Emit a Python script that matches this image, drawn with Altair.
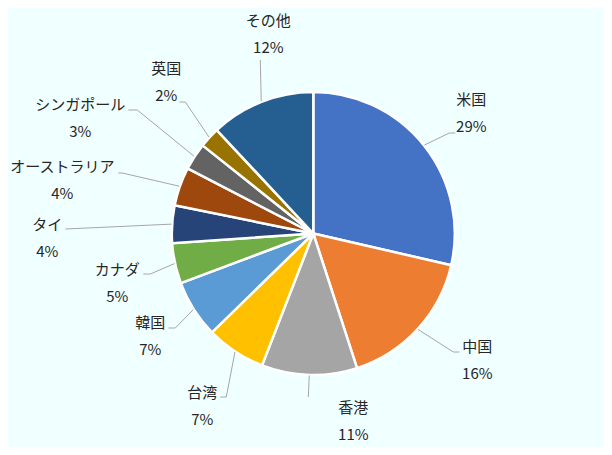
import math
import altair as alt
import pandas as pd

# ---- data (shares, %) ----
names = ["米国", "中国", "香港", "台湾", "韓国", "カナダ", "タイ",
         "オーストラリア", "シンガポール", "英国", "その他"]
shares = [28.6, 16.4, 10.9, 6.8, 6.6, 4.6, 4.3, 4.4, 3.1, 2.35, 11.95]
colors = ["#4472C4", "#ED7D31", "#A5A5A5", "#FFC000", "#5B9BD5", "#70AD47",
          "#264478", "#9E480E", "#636363", "#997300", "#255E91"]

# ---- layout (pixel offsets from the pie centre) ----
CX, CY, R = 305.3, 225.5, 141.5
label_off = [(158, -120), (164, 127), (40, 187.5), (-111, 173), (-163, 103),
             (-196, 50), (-266, 5), (-251, -53.5), (-233, -115), (-147, -151),
             (-45, -199)]
leader_elbow = [(136, -100.5), (140, 118.5), (-5, 163.5), (-87, 163.5),
                (-138, 94.5), (-163, 40.5), (-248, -4.5), (-191, -60.5),
                (-176, -123.5), (-128, -131.5), (-53, -173.5)]
leader_end = [(142, -100.5), (146, 118.5), (-5, 163.5), (-93, 163.5),
              (-145, 94.5), (-170, 40.5), (-248, -4.5), (-195, -60.5),
              (-185, -123.5), (-134, -131.5), (-53, -173.5)]

pie_df = pd.DataFrame({"name": names, "value": shares,
                       "idx": list(range(len(names)))})

lab_rows = []
for n, v, (dx, dy) in zip(names, shares, label_off):
    lab_rows.append({"name": n, "pct": f"{round(v)}%",
                     "x": CX + dx, "y": CY + dy})
lab_df = pd.DataFrame(lab_rows)

lead_rows = []
cum = 0.0
for n, v, e, t in zip(names, shares, leader_elbow, leader_end):
    mid = math.radians((cum + v / 2) / 100 * 360)
    cum += v
    lead_rows.append({"name": n, "pt": 0,
                      "x": CX + (R + 0.5) * math.sin(mid),
                      "y": CY - (R + 0.5) * math.cos(mid)})
    lead_rows.append({"name": n, "pt": 1, "x": CX + e[0], "y": CY + e[1]})
    lead_rows.append({"name": n, "pt": 2, "x": CX + t[0], "y": CY + t[1]})
lead_df = pd.DataFrame(lead_rows)

pie = alt.Chart(pie_df).mark_arc(
    outerRadius=R, stroke="white", strokeWidth=2.5
).encode(
    theta=alt.Theta("value:Q", stack=True),
    order=alt.Order("idx:Q"),
    color=alt.Color("name:N", scale=alt.Scale(domain=names, range=colors),
                    legend=None),
    x=alt.value(CX),
    y=alt.value(CY),
)

leaders = alt.Chart(lead_df).mark_line(
    color="#A6A6A6", strokeWidth=1
).encode(
    x=alt.X("x:Q", scale=None),
    y=alt.Y("y:Q", scale=None),
    detail="name:N",
    order="pt:Q",
)

font = "Noto Sans CJK JP"
name_txt = alt.Chart(lab_df).mark_text(
    font=font, fontSize=15, color="#262626", align="center",
    baseline="middle", dy=-13.5
).encode(x=alt.X("x:Q", scale=None), y=alt.Y("y:Q", scale=None),
         text="name:N")

pct_txt = alt.Chart(lab_df).mark_text(
    font=font, fontSize=15, color="#262626", align="center",
    baseline="middle", dy=13.5
).encode(x=alt.X("x:Q", scale=None), y=alt.Y("y:Q", scale=None),
         text="pct:N")

chart = alt.layer(pie, leaders, name_txt, pct_txt).properties(
    width=596, height=439,
    autosize=alt.AutoSizeParams(type="none"),
    padding=0,
    background="#F0FFFF",
).configure_view(strokeWidth=0)

chart.save("out.html", embed_options={"renderer": "svg", "actions": False})
